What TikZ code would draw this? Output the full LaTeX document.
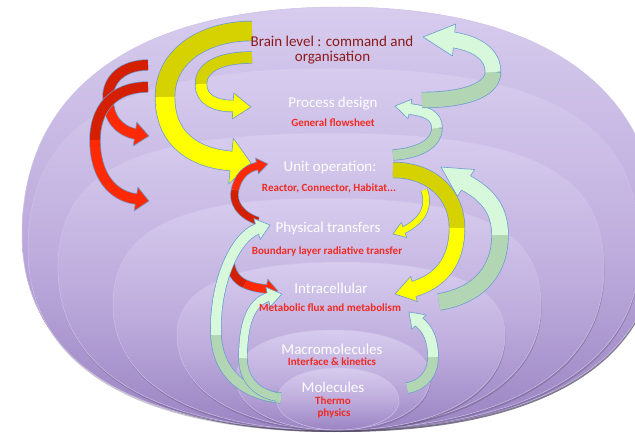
\documentclass[tikz,border=0pt]{standalone}
\usepackage{fontspec}
\setmainfont{Carlito}
\usetikzlibrary{calc}

\definecolor{lavtop}{HTML}{D7CCEE}
\definecolor{lavmid}{HTML}{BEADDD}
\definecolor{lavbot}{HTML}{9B84C3}
\definecolor{lavrim}{HTML}{CFC2E9}
\definecolor{shadowc}{HTML}{4E4462}
\definecolor{rim}{HTML}{6A9BD2}
\definecolor{yelF}{HTML}{FFFF00}
\definecolor{yelB}{HTML}{D6D100}
\definecolor{redF}{HTML}{FF2A05}
\definecolor{redB}{HTML}{D42000}
\definecolor{grnF}{HTML}{D7F8DB}
\definecolor{grnB}{HTML}{B2D6B4}
\definecolor{brainred}{HTML}{8C1A1A}
\definecolor{subred}{HTML}{F02A22}

% rounded "egg" layer: cx cy rx ry-top ry-bottom kappa-top kappa-bottom style
\newcommand\layer[8]{%
  \path[#8] (#1-#3,#2) .. controls (#1-#3,#2-#6*#4) and (#1-#6*#3,#2-#4) .. (#1,#2-#4)
    .. controls (#1+#6*#3,#2-#4) and (#1+#3,#2-#6*#4) .. (#1+#3,#2)
    .. controls (#1+#3,#2+#7*#5) and (#1+#7*#3,#2+#5) .. (#1,#2+#5)
    .. controls (#1-#7*#3,#2+#5) and (#1-#3,#2+#7*#5) .. cycle;}

% triangular arrow head: base, tip, half width, fill colour
\newcommand\ahead[4]{%
  \filldraw[draw=rim, fill=#4, line width=0.6pt, line join=round]
    (#2) -- ($(#1)!#3pt!90:(#2)$) -- ($(#1)!#3pt!-90:(#2)$) -- cycle;}

\tikzset{
  lay/.style={top color=lavtop, bottom color=lavbot, middle color=lavmid,
              draw=lavrim, line width=0.5pt},
  shade/.style={fill=shadowc, opacity=#1, shift={(0.6,2)}},
  rimband/.style={draw=rim, line width=#1, line cap=butt},
  band/.style 2 args={draw=#1, line width=#2, line cap=butt},
  title/.style={anchor=base, inner sep=0pt, text=white,
                font=\fontsize{15}{18}\selectfont},
  brain/.style={title, text=brainred},
  sub/.style={anchor=base, inner sep=0pt, text=subred,
              font=\fontsize{11}{13}\selectfont\bfseries},
}

\begin{document}
\begin{tikzpicture}[x=1pt, y=-1pt]
\useasboundingbox (0,0) rectangle (635,433);
\fill[white] (0,0) rectangle (635,433);

% nested levels, outermost first
\layer{340}{235}{318}{228}{195}{0.64}{0.64}{shade=0.7}
\layer{340}{235}{318}{228}{195}{0.64}{0.64}{lay}
\layer{334}{250}{306}{182}{180}{0.70}{0.64}{shade=0.3}
\layer{334}{250}{306}{182}{180}{0.70}{0.64}{lay}
\layer{331}{268}{273}{135}{162}{0.72}{0.64}{shade=0.3}
\layer{331}{268}{273}{135}{162}{0.72}{0.64}{lay}
\layer{327}{305}{214}{107}{125}{0.70}{0.62}{shade=0.3}
\layer{327}{305}{214}{107}{125}{0.70}{0.62}{lay}
\layer{341}{335}{164}{73}{95}{0.66}{0.60}{shade=0.3}
\layer{341}{335}{164}{73}{95}{0.66}{0.60}{lay}
\layer{333}{378}{97}{48}{52}{0.60}{0.58}{shade=0.25}
\layer{333}{378}{97}{48}{52}{0.60}{0.58}{lay}
\layer{338}{401}{61}{33}{29}{0.58}{0.56}{lay}

% ---------- arrow anchor points ----------
\coordinate (y1t) at (252,31);  \coordinate (y1m) at (165,97);
\coordinate (y1b) at (231,161); \coordinate (y1h) at (251,163);
\coordinate (y2t) at (252,57.5); \coordinate (y2m) at (201,84);
\coordinate (y2b) at (233,106); \coordinate (y2h) at (251,107);
\coordinate (r1t) at (148,65);  \coordinate (r1m) at (108,97);
\coordinate (r1b) at (135,134); \coordinate (r1h) at (149,136);
\coordinate (r2t) at (148,87);  \coordinate (r2m) at (95,140);
\coordinate (r2b) at (136,199); \coordinate (r2h) at (149,201);
\coordinate (r3t) at (258,221); \coordinate (r3m) at (235,190);
\coordinate (r3b) at (257,166); \coordinate (r3h) at (268,164);
\coordinate (r4t) at (230,262); \coordinate (r4m) at (245,284);
\coordinate (r4b) at (266,289); \coordinate (r4h) at (278,291);
\coordinate (g5t) at (281,398); \coordinate (g5m) at (216,335);
\coordinate (g5b) at (257,229); \coordinate (g5h) at (270,225);
\coordinate (g6t) at (277,397); \coordinate (g6m) at (243,358);
\coordinate (g6b) at (268,297); \coordinate (g6h) at (282,294);
\coordinate (g4t) at (407,388); \coordinate (g4m) at (433,357);
\coordinate (g4b) at (419,322); \coordinate (g4h) at (409,312);
\coordinate (g3t) at (439,302); \coordinate (g3m) at (500,235);
\coordinate (g3b) at (466,183); \coordinate (g3h) at (441,167);
\coordinate (g2t) at (393,155); \coordinate (g2m) at (437,128);
\coordinate (g2b) at (410,109); \coordinate (g2h) at (395,106);
\coordinate (g1t) at (422,100); \coordinate (g1m) at (493,72);
\coordinate (g1b) at (454,40);  \coordinate (g1h) at (423,37);
\coordinate (y3t) at (393,170); \coordinate (y3m) at (457,228);
\coordinate (y3b) at (414,289); \coordinate (y3h) at (395,294);
\coordinate (y4t) at (424,190);
\coordinate (y4b) at (404,230); \coordinate (y4h) at (393,234);

% ---------- yellow arrows, left ----------
\draw[rimband=20.4pt] (y1t) .. controls (205,31) and (165,55) .. (y1m)
  .. controls (165,140) and (195,158) .. (y1b);
\ahead{y1b}{y1h}{23}{yelF}
\draw[band={yelB}{19pt}] (y1t) .. controls (205,31) and (165,55) .. (y1m);
\draw[band={yelF}{19pt}] (y1m) .. controls (165,140) and (195,158) .. (y1b)
  -- ($(y1b)!1.5pt!(y1h)$);

\draw[rimband=12.4pt] (y2t) .. controls (218,57.5) and (201,68) .. (y2m)
  .. controls (201,100) and (215,106) .. (y2b);
\ahead{y2b}{y2h}{13}{yelF}
\draw[band={yelB}{11pt}] (y2t) .. controls (218,57.5) and (201,68) .. (y2m);
\draw[band={yelF}{11pt}] (y2m) .. controls (201,100) and (215,106) .. (y2b)
  -- ($(y2b)!1.5pt!(y2h)$);

% ---------- red arrows, left ----------
\draw[rimband=11.4pt] (r1t) .. controls (122,65) and (108,80) .. (r1m)
  .. controls (108,118) and (118,130) .. (r1b);
\ahead{r1b}{r1h}{12}{redF}
\draw[band={redB}{10pt}] (r1t) .. controls (122,65) and (108,80) .. (r1m);
\draw[band={redF}{10pt}] (r1m) .. controls (108,118) and (118,130) .. (r1b)
  -- ($(r1b)!1.5pt!(r1h)$);

\draw[rimband=11.4pt] (r2t) .. controls (112,87) and (95,110) .. (r2m)
  .. controls (95,175) and (112,196) .. (r2b);
\ahead{r2b}{r2h}{12}{redF}
\draw[band={redB}{10pt}] (r2t) .. controls (112,87) and (95,110) .. (r2m);
\draw[band={redF}{10pt}] (r2m) .. controls (95,175) and (112,196) .. (r2b)
  -- ($(r2b)!1.5pt!(r2h)$);

\draw[rimband=8.4pt] (r3t) .. controls (240,215) and (232,202) .. (r3m)
  .. controls (238,177) and (245,169) .. (r3b);
\ahead{r3b}{r3h}{8}{redF}
\draw[band={redB}{7pt}] (r3t) .. controls (240,215) and (232,202) .. (r3m);
\draw[band={redF}{7pt}] (r3m) .. controls (238,177) and (245,169) .. (r3b)
  -- ($(r3b)!1.5pt!(r3h)$);

\draw[rimband=9.4pt] (r4t) .. controls (231,272) and (236,280) .. (r4m)
  .. controls (252,287) and (258,288) .. (r4b);
\ahead{r4b}{r4h}{10}{redF}
\draw[band={redB}{8pt}] (r4t) .. controls (231,272) and (236,280) .. (r4m);
\draw[band={redF}{8pt}] (r4m) .. controls (252,287) and (258,288) .. (r4b)
  -- ($(r4b)!1.5pt!(r4h)$);

% ---------- green arrows, lower left ----------
\draw[rimband=11.4pt] (g5t) .. controls (245,394) and (218,375) .. (g5m)
  .. controls (214,285) and (234,238) .. (g5b);
\ahead{g5b}{g5h}{11}{grnF}
\draw[band={grnB}{10pt}] (g5t) .. controls (245,394) and (218,375) .. (g5m);
\draw[band={grnF}{10pt}] (g5m) .. controls (214,285) and (234,238) .. (g5b)
  -- ($(g5b)!1.5pt!(g5h)$);

\draw[rimband=9.4pt] (g6t) .. controls (255,393) and (243,378) .. (g6m)
  .. controls (243,325) and (250,303) .. (g6b);
\ahead{g6b}{g6h}{10}{grnF}
\draw[band={grnB}{8pt}] (g6t) .. controls (255,393) and (243,378) .. (g6m);
\draw[band={grnF}{8pt}] (g6m) .. controls (243,325) and (250,303) .. (g6b)
  -- ($(g6b)!1.5pt!(g6h)$);

% ---------- right side ----------
\draw[rimband=11.4pt] (g4t) .. controls (425,385) and (433,372) .. (g4m)
  .. controls (433,340) and (428,329) .. (g4b);
\ahead{g4b}{g4h}{10}{grnF}
\draw[band={grnB}{10pt}] (g4t) .. controls (425,385) and (433,372) .. (g4m);
\draw[band={grnF}{10pt}] (g4m) .. controls (433,340) and (428,329) .. (g4b)
  -- ($(g4b)!1.5pt!(g4h)$);

\draw[rimband=17.4pt] (g3t) .. controls (480,295) and (500,270) .. (g3m)
  .. controls (500,210) and (488,195) .. (g3b);
\ahead{g3b}{g3h}{16}{grnF}
\draw[band={grnB}{16pt}] (g3t) .. controls (480,295) and (500,270) .. (g3m);
\draw[band={grnF}{16pt}] (g3m) .. controls (500,210) and (488,195) .. (g3b)
  -- ($(g3b)!1.5pt!(g3h)$);

\draw[rimband=7.4pt] (y4t) .. controls (430,205) and (424,220) .. (y4b);
\ahead{y4b}{y4h}{8}{yelF}
\draw[band={yelF}{6pt}] (y4t) .. controls (430,205) and (424,220) .. (y4b)
  -- ($(y4b)!1.5pt!(y4h)$);

\draw[rimband=16.4pt] (y3t) .. controls (432,170) and (457,195) .. (y3m)
  .. controls (457,262) and (440,281) .. (y3b);
\ahead{y3b}{y3h}{13}{yelF}
\draw[band={yelB}{15pt}] (y3t) .. controls (432,170) and (457,195) .. (y3m);
\draw[band={yelF}{15pt}] (y3m) .. controls (457,262) and (440,281) .. (y3b)
  -- ($(y3b)!1.5pt!(y3h)$);

\draw[rimband=11.4pt] (g2t) .. controls (422,153) and (437,142) .. (g2m)
  .. controls (437,115) and (425,111) .. (g2b);
\ahead{g2b}{g2h}{10}{grnF}
\draw[band={grnB}{10pt}] (g2t) .. controls (422,153) and (437,142) .. (g2m);
\draw[band={grnF}{10pt}] (g2m) .. controls (437,115) and (425,111) .. (g2b)
  -- ($(g2b)!1.5pt!(g2h)$);

\draw[rimband=16.4pt] (g1t) .. controls (465,100) and (493,90) .. (g1m)
  .. controls (493,55) and (478,44) .. (g1b);
\ahead{g1b}{g1h}{16}{grnF}
\draw[band={grnB}{15pt}] (g1t) .. controls (465,100) and (493,90) .. (g1m);
\draw[band={grnF}{15pt}] (g1m) .. controls (493,55) and (478,44) .. (g1b)
  -- ($(g1b)!1.5pt!(g1h)$);

% ---------- level labels ----------
\node[brain] (brainA) at (332,46.5) {Brain level : command and};
\node[brain] (brainB) at (332.5,62) {organisation};
\node[title] (proc) at (333,108) {Process design};
\node[sub] (procsub) at (333,126.5) {General flowsheet};
\node[title] (unit) at (330,172) {Unit operation:};
\node[sub] (unitsub) at (329,192) {Reactor, Connector, Habitat...};
\node[title] (phys) at (328,233) {Physical transfers};
\node[sub] (physsub) at (327,254) {Boundary layer radiative transfer};
\node[title] (intra) at (331,293) {Intracellular};
\node[sub] (intrasub) at (330,311.5) {Metabolic flux and metabolism};
\node[title] (macro) at (332,354) {Macromolecules};
\node[sub] (macrosub) at (332,365) {Interface \& kinetics};
\node[title] (mol) at (333,392) {Molecules};
\node[sub] (molsubA) at (333,404.5) {Thermo};
\node[sub] (molsubB) at (334,416) {physics};
\end{tikzpicture}
\end{document}
